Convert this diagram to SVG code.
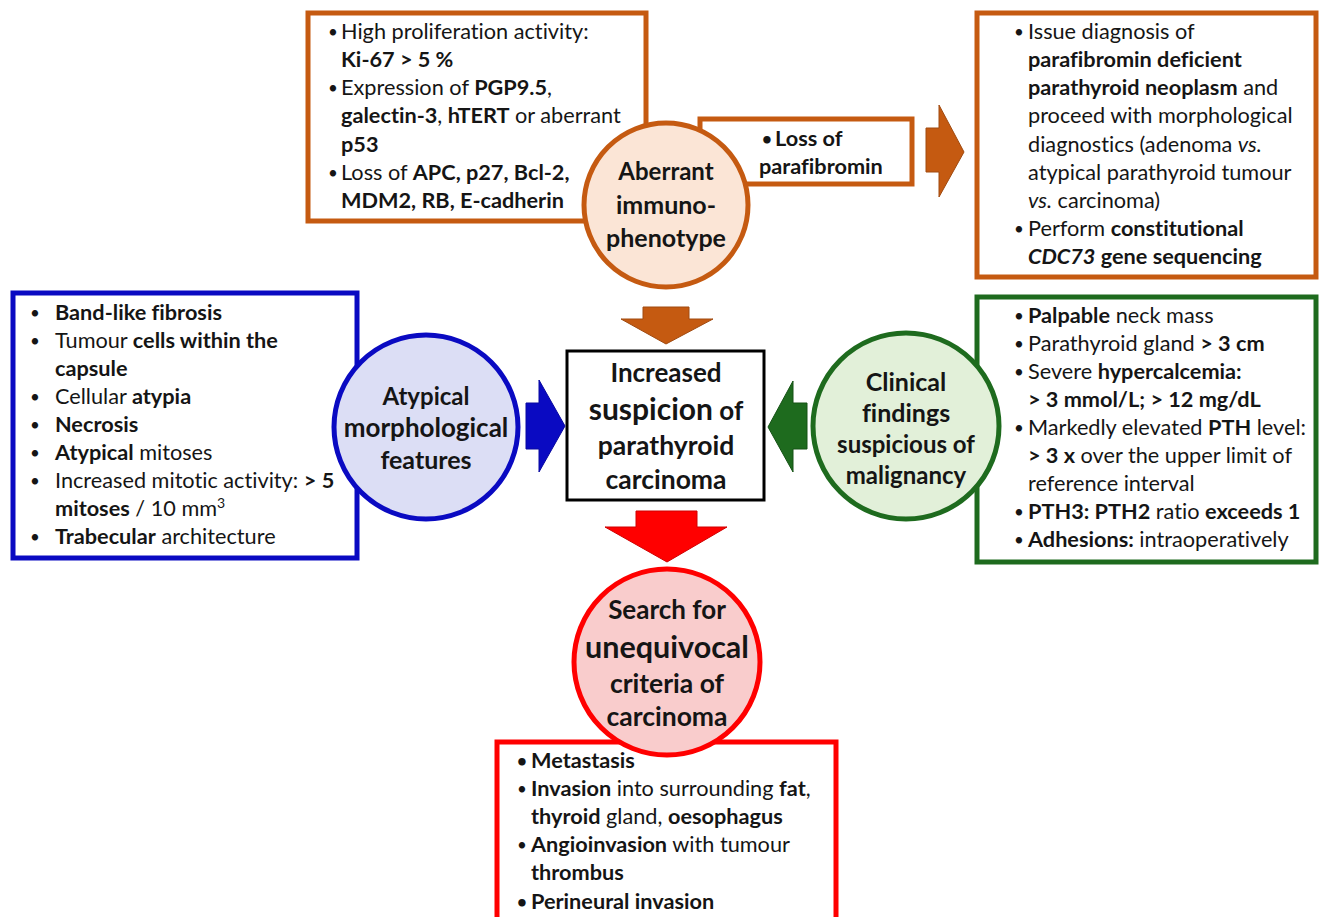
<svg xmlns="http://www.w3.org/2000/svg" width="1319" height="917" viewBox="0 0 1319 917">
<style>
text{font-variant-ligatures:none}
.t{font-family:Lato,"Liberation Sans",sans-serif;font-size:21.7px;fill:#151515}
.b{font-weight:bold}
.i{font-style:italic}
.u{font-family:Lato,"Liberation Sans",sans-serif;font-size:17px;fill:#151515}
.c{font-family:Lato,"Liberation Sans",sans-serif;font-weight:bold;fill:#151515;text-anchor:middle}
.ob{fill:#fff;stroke:#C55A11;stroke-width:5}
.bb{fill:#fff;stroke:#0A0AC2;stroke-width:5}
.gb{fill:#fff;stroke:#1E6B1E;stroke-width:5}
.rb{fill:#fff;stroke:#FF0000;stroke-width:5}
</style>
<rect width="1319" height="917" fill="#fff"/>

<g id="immuno-box">
<rect class="ob" x="308" y="13" width="338" height="208"/>
<text class="u" x="328" y="38">•</text>
<text class="t" x="341" y="39">High proliferation activity:</text>
<text class="t b" x="341" y="67">Ki-67 &gt; 5 %</text>
<text class="u" x="328" y="94">•</text>
<text class="t" x="341" y="95">Expression of <tspan class="b">PGP9.5</tspan>,</text>
<text class="t" x="341" y="123"><tspan class="b">galectin-3</tspan>, <tspan class="b">hTERT</tspan> or aberrant</text>
<text class="t b" x="341" y="152">p53</text>
<text class="u" x="328" y="179">•</text>
<text class="t" x="341" y="180">Loss of <tspan class="b">APC, p27, Bcl-2,</tspan></text>
<text class="t b" x="341" y="208">MDM2, RB, E-cadherin</text>
</g>

<g id="parafibromin-box">
<rect class="ob" x="700" y="119" width="212" height="65"/>
<text class="u b" x="762" y="145">•</text>
<text class="t b" x="775" y="146" font-size="22">Loss of</text>
<text class="t b" x="759" y="174" font-size="22.3">parafibromin</text>
</g>

<g id="aberrant-circle">
<circle cx="666" cy="205" r="82" fill="#FBE5D6" stroke="#C55A11" stroke-width="5"/>
<text class="c" x="666" y="180" font-size="24">Aberrant</text>
<text class="c" x="666" y="214" font-size="25">immuno-</text>
<text class="c" x="666" y="247" font-size="25">phenotype</text>
</g>

<g id="diagnosis-box">
<rect class="ob" x="977" y="13" width="339" height="264"/>
<text class="u" x="1014" y="38">•</text>
<text class="t" x="1028" y="39">Issue diagnosis of</text>
<text class="t b" x="1028" y="67">parafibromin deficient</text>
<text class="t" x="1028" y="95"><tspan class="b">parathyroid neoplasm</tspan> and</text>
<text class="t" x="1028" y="123">proceed with morphological</text>
<text class="t" x="1028" y="152">diagnostics (adenoma <tspan class="i">vs.</tspan></text>
<text class="t" x="1028" y="180">atypical parathyroid tumour</text>
<text class="t" x="1028" y="208"><tspan class="i">vs.</tspan> carcinoma)</text>
<text class="u" x="1014" y="235">•</text>
<text class="t" x="1028" y="236">Perform <tspan class="b">constitutional</tspan></text>
<text class="t b" x="1028" y="264"><tspan class="i">CDC73</tspan> gene sequencing</text>
</g>

<g id="morphology-box">
<rect class="bb" x="13" y="293" width="344" height="265"/>
<text class="u" x="30" y="319">•</text>
<text class="t b" x="55" y="320">Band-like fibrosis</text>
<text class="u" x="30" y="347">•</text>
<text class="t" x="55" y="348">Tumour <tspan class="b">cells within the</tspan></text>
<text class="t b" x="55" y="376">capsule</text>
<text class="u" x="30" y="403">•</text>
<text class="t" x="55" y="404">Cellular <tspan class="b">atypia</tspan></text>
<text class="u" x="30" y="431">•</text>
<text class="t b" x="55" y="432">Necrosis</text>
<text class="u" x="30" y="459">•</text>
<text class="t" x="55" y="460"><tspan class="b">Atypical</tspan> mitoses</text>
<text class="u" x="30" y="487">•</text>
<text class="t" x="55" y="488">Increased mitotic activity: <tspan class="b">&gt; 5</tspan></text>
<text class="t" x="55" y="516"><tspan class="b">mitoses</tspan> / 10 mm<tspan font-size="14" dy="-8">3</tspan></text>
<text class="u" x="30" y="543">•</text>
<text class="t" x="55" y="544"><tspan class="b">Trabecular</tspan> architecture</text>
</g>

<g id="morphology-circle">
<circle cx="426" cy="427" r="92" fill="#DCDEF5" stroke="#0A0AC2" stroke-width="5"/>
<text class="c" x="426" y="405" font-size="24">Atypical</text>
<text class="c" x="426" y="437" font-size="26">morphological</text>
<text class="c" x="426" y="469" font-size="25">features</text>
</g>

<g id="suspicion-box">
<rect x="567" y="351" width="197" height="149" fill="#fff" stroke="#000" stroke-width="3"/>
<text class="c" x="666" y="382" font-size="26">Increased</text>
<text class="c" x="666" y="420" font-size="26"><tspan font-size="30">suspicion</tspan> of</text>
<text class="c" x="666" y="455" font-size="26.5">parathyroid</text>
<text class="c" x="666" y="489" font-size="26.5">carcinoma</text>
</g>

<g id="clinical-box">
<rect class="gb" x="977" y="297" width="339" height="265"/>
<text class="u" x="1014" y="322">•</text>
<text class="t" x="1028" y="323"><tspan class="b">Palpable</tspan> neck mass</text>
<text class="u" x="1014" y="350">•</text>
<text class="t" x="1028" y="351">Parathyroid gland <tspan class="b">&gt; 3 cm</tspan></text>
<text class="u" x="1014" y="378">•</text>
<text class="t" x="1028" y="379">Severe <tspan class="b">hypercalcemia:</tspan></text>
<text class="t b" x="1028" y="407">&gt; 3 mmol/L; &gt; 12 mg/dL</text>
<text class="u" x="1014" y="434">•</text>
<text class="t" x="1028" y="435">Markedly elevated <tspan class="b">PTH</tspan> level:</text>
<text class="t" x="1028" y="463"><tspan class="b">&gt; 3 x</tspan> over the upper limit of</text>
<text class="t" x="1028" y="491">reference interval</text>
<text class="u" x="1014" y="518">•</text>
<text class="t" x="1028" y="519"><tspan class="b">PTH3: PTH2</tspan> ratio <tspan class="b">exceeds 1</tspan></text>
<text class="u" x="1014" y="546">•</text>
<text class="t" x="1028" y="547"><tspan class="b">Adhesions:</tspan> intraoperatively</text>
</g>

<g id="clinical-circle">
<circle cx="906" cy="426" r="93" fill="#E2F0D9" stroke="#1E6B1E" stroke-width="5"/>
<text class="c" x="906" y="391" font-size="25">Clinical</text>
<text class="c" x="906" y="422" font-size="25">findings</text>
<text class="c" x="906" y="453" font-size="24">suspicious of</text>
<text class="c" x="906" y="484" font-size="24">malignancy</text>
</g>

<g id="criteria-box">
<rect class="rb" x="497" y="742" width="339" height="200"/>
<text class="u b" x="517" y="767">•</text>
<text class="t b" x="531" y="768">Metastasis</text>
<text class="u" x="517" y="795">•</text>
<text class="t" x="531" y="796"><tspan class="b">Invasion</tspan> into surrounding <tspan class="b">fat</tspan>,</text>
<text class="t" x="531" y="824"><tspan class="b">thyroid</tspan> gland, <tspan class="b">oesophagus</tspan></text>
<text class="u" x="517" y="851">•</text>
<text class="t" x="531" y="852"><tspan class="b">Angioinvasion</tspan> with tumour</text>
<text class="t b" x="531" y="880">thrombus</text>
<text class="u b" x="517" y="908">•</text>
<text class="t b" x="531" y="909">Perineural invasion</text>
</g>

<g id="criteria-circle">
<circle cx="667" cy="662" r="93" fill="#F9CCCC" stroke="#FF0000" stroke-width="5"/>
<text class="c" x="667" y="619" font-size="26">Search for</text>
<text class="c" x="667" y="658" font-size="30.5">unequivocal</text>
<text class="c" x="667" y="693" font-size="26.5">criteria of</text>
<text class="c" x="667" y="726" font-size="26.5">carcinoma</text>
</g>

<g id="connectors">
<polygon points="926,128 939,128 939,105 964,152 939,197 939,172 926,172" fill="#C55A11" stroke="#A04A10" stroke-width="1"/>
<polygon points="643,307 689,307 689,319 713,319 666,344 621,319 643,319" fill="#C55A11" stroke="#A04A10" stroke-width="1"/>
<polygon points="526,403 539,403 539,380 565,426 539,472 539,449 526,449" fill="#0A0AC2" stroke="#0808A0" stroke-width="1"/>
<polygon points="807,403 793,403 793,381 768,427 793,472 793,449 807,449" fill="#1E6B1E" stroke="#155215" stroke-width="1"/>
<polygon points="636,511 697,511 697,527 727,527 667,562 605,527 636,527" fill="#FF0000" stroke="#D00000" stroke-width="1"/>
</g>
</svg>
